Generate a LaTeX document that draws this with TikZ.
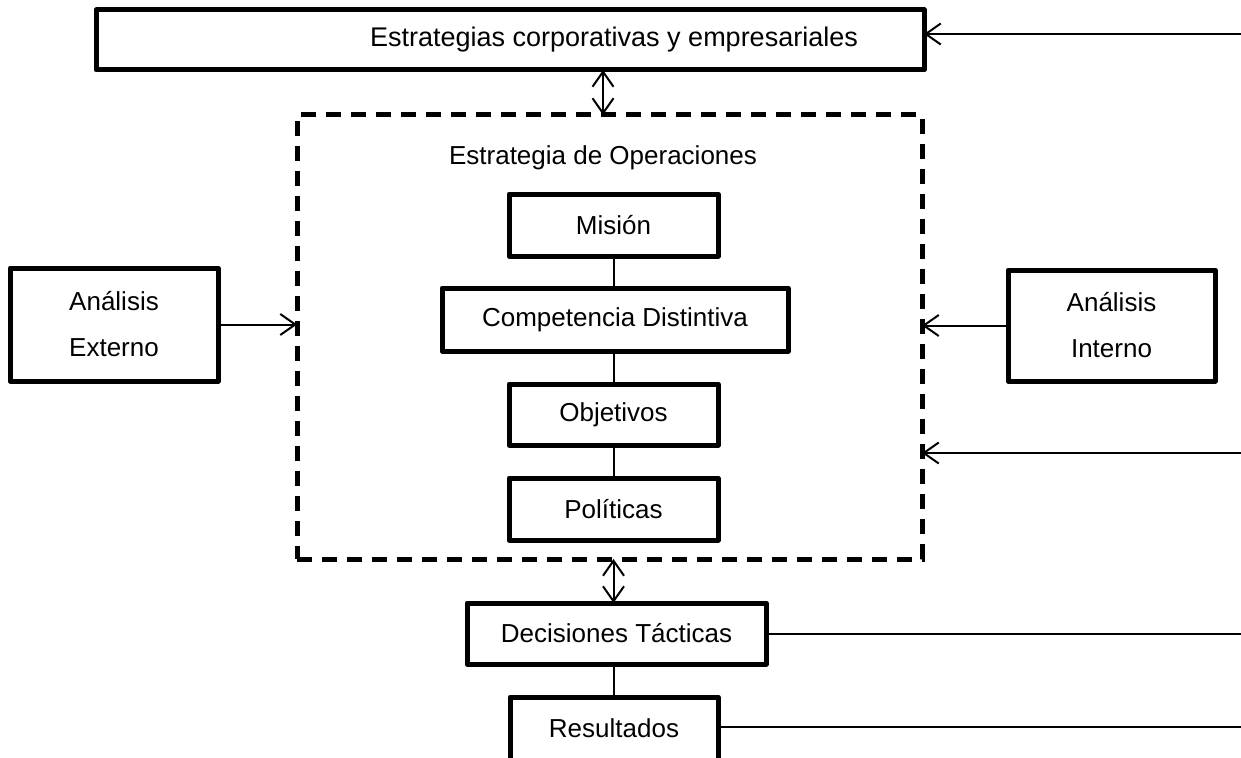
\documentclass[tikz,border=0pt]{standalone}
\usepackage{fontspec}
\setmainfont{Liberation Sans}
\usetikzlibrary{arrows.meta,calc}

\tikzset{
  box/.style={draw=black, line width=5pt, line join=round, fill=white,
    inner sep=0pt, outer sep=0pt, align=center,
    font=\fontsize{26}{31}\selectfont},
  twoline/.style={box, font=\fontsize{26}{46}\selectfont},
  opsbox/.style={draw=black, line width=5pt, dash pattern=on 15pt off 10pt,
    inner sep=0pt, outer sep=0pt},
  link/.style={draw=black, line width=2pt},
  feed/.style={link, -{Straight Barb[length=15pt,width=21pt]}},
  both/.style={link, {Straight Barb[length=15pt,width=21pt]}-{Straight Barb[length=15pt,width=21pt]}},
  label/.style={inner sep=0pt, font=\fontsize{26}{31}\selectfont}
}

\begin{document}
\begin{tikzpicture}[x=1pt, y=-1pt]
  \useasboundingbox (0,0) rectangle (1241,757);

  % operations strategy frame and its title
  \node[opsbox, minimum width=625pt, minimum height=444pt] (ops) at (609.5,337) {};
  \node[label] (opstitle) at (603,158) {Estrategia de Operaciones};

  % boxes
  \node[box, minimum width=828pt, minimum height=60pt] (corp) at (510,40) {};
  \node[label, font=\fontsize{27}{31}\selectfont] (corptext) at (614,40) {Estrategias corporativas y empresariales};
  \node[box, minimum width=209pt, minimum height=62pt] (mision) at (613.5,225) {Misión};
  \node[box, minimum width=346pt, minimum height=63pt] (comp) at (615,319.5) {Competencia Distintiva};
  \node[box, minimum width=209pt, minimum height=61pt] (obj) at (613.5,414.5) {Objetivos};
  \node[box, minimum width=209pt, minimum height=62pt] (pol) at (613.5,509) {Políticas};
  \node[twoline, minimum width=208pt, minimum height=113pt] (ext) at (114,324.5) {Análisis\\Externo};
  \node[twoline, minimum width=207pt, minimum height=111pt] (int) at (1111.5,325.5) {Análisis\\Interno};
  \node[box, minimum width=299pt, minimum height=61pt] (dec) at (616.5,633.5) {Decisiones Tácticas};
  \node[box, minimum width=208pt, minimum height=63pt] (res) at (614,728.5) {Resultados};

  % loose ends at the right margin
  \coordinate (inA) at (1241,34);
  \coordinate (inB) at (1241,453);
  \coordinate (outA) at (1241,633);
  \coordinate (outB) at (1241,727);

  % vertical chain
  \draw[link] (mision.south) -- (mision.south |- comp.north);
  \draw[link] (obj.north |- comp.south) -- (obj.north);
  \draw[link] (obj.south) -- (pol.north);
  \draw[link] (dec.south -| res.north) -- (res.north);

  % two-way links
  \draw[both] ([xshift=93pt]corp.south) -- ([xshift=93pt]corp.south |- ops.north);
  \draw[both] (pol.south |- ops.south) -- (pol.south |- dec.north);

  % inputs to the frame
  \draw[feed] (ext.east) -- (ext.east -| ops.west);
  \draw[feed] (int.west) -- (int.west -| ops.east);
  \draw[feed] (inA) -- (inA -| corp.east);
  \draw[feed] (inB) -- (inB -| ops.east);

  % outputs to the right
  \draw[link] (dec.east) -- (dec.east -| outA);
  \draw[link] (res.east |- outB) -- (outB);
\end{tikzpicture}
\end{document}
